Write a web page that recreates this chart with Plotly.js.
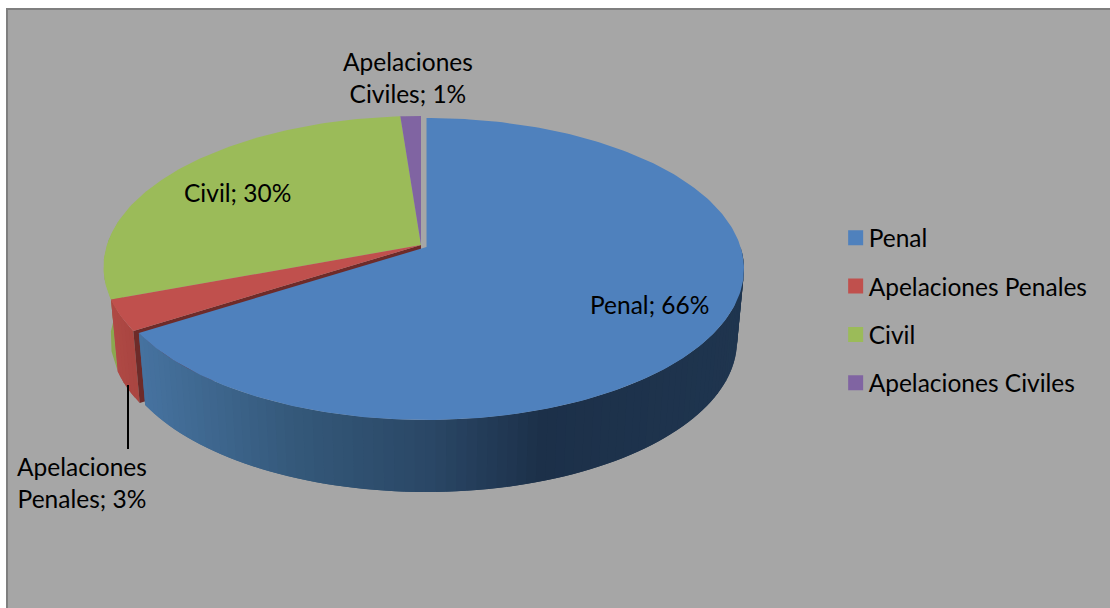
<!DOCTYPE html>
<html>
<head>
<meta charset="utf-8">
<script src="https://cdn.plot.ly/plotly-3.0.1.min.js"></script>
<style>html,body{margin:0;padding:0;background:#fff}#chart{width:1110px;height:608px}</style>
</head>
<body>
<div id="chart"></div>
<script>
// Data
const categories = ["Penal", "Apelaciones Penales", "Civil", "Apelaciones Civiles"];
const shares = [66, 3.3, 29.5, 1.2];
const colors = ["#4F81BD", "#C0504D", "#9BBB59", "#8064A2"];

// Projection of the tilted pie onto the axes (axis units = page pixels)
const TILT = { k: 0.1457, a: 147.8, b: 314.1, depth: 72, lowerScale: 0.978 };
const CENTERS = [{x: 426.5, y: 247}, {x: 421, y: 245}, {x: 421, y: 245}, {x: 421, y: 245}];
const FONT = "Lato, Carlito, Calibri, sans-serif";
const FS = 24.5;

function P(deg, c, level) {
  const t = deg * Math.PI / 180, u = Math.sin(t), v = Math.cos(t);
  const w = 1 / (1 + TILT.k * v);
  return [c.x + TILT.b * u * w * (level ? TILT.lowerScale : 1),
          c.y - TILT.a * v * w + (level ? TILT.depth : 0)];
}
function poly(pts, color, lw) {
  return { type: "scatter", mode: "lines", x: pts.map(p => p[0]), y: pts.map(p => p[1]),
    fill: "toself", fillcolor: color, line: { color: color, width: lw === undefined ? 0 : lw, shape: "linear" },
    showlegend: false, hoverinfo: "skip" };
}
function hex(c){return [1,3,5].map(i=>parseInt(c.slice(i,i+2),16));}
function ramp(stops, x) {
  if (x <= stops[0][0]) return stops[0][1];
  for (let i = 1; i < stops.length; i++) {
    if (x <= stops[i][0]) {
      const f = (x - stops[i-1][0]) / (stops[i][0] - stops[i-1][0]);
      const a = hex(stops[i-1][1]), b = hex(stops[i][1]);
      return "rgb(" + a.map((v, j) => Math.round(v + (b[j] - v) * f)).join(",") + ")";
    }
  }
  return stops[stops.length-1][1];
}
const blueRamp = [[147,"#46729F"],[300,"#345879"],[430,"#2A4766"],[540,"#1C3049"],[744,"#1F354F"]];
const redRamp  = [[112,"#B04A46"],[147,"#A8443F"]];

// Slice angle spans, clockwise from 12 o'clock
const spans = [];
let acc = 0;
shares.forEach(s => { spans.push([acc * 3.6, (acc + s) * 3.6]); acc += s; });

function arc(i, level, a0, a1, n) {
  const out = [];
  for (let j = 0; j <= n; j++) out.push(P(a0 + (a1 - a0) * j / n, CENTERS[i], level));
  return out;
}
function side(i, a0, a1, color) {
  return poly(arc(i, 0, a0, a1, 4).concat(arc(i, 1, a0, a1, 4).reverse()), color);
}
// Wall drawn as overlapping strips so no seams appear between neighbours
function shadedWall(i, from, to, n, stops, out) {
  const step = (to - from) / n;
  for (let j = 0; j < n; j++) {
    const s0 = from + step * j, s1 = Math.min(to, s0 + 2 * step);
    out.push(side(i, s0, s1, ramp(stops, P(s0 + step / 2, CENTERS[i], 1)[0])));
  }
}

const traces = [];
// Legend entries
categories.forEach((name, i) => traces.push({
  type: "scatter", mode: "markers", x: [null], y: [null], name: name, legendgroup: name,
  marker: { symbol: "square", size: 15, color: colors[i] }, hoverinfo: "skip"
}));
// Civil outer wall
traces.push(side(2, spans[2][0], spans[2][0] + 30, "#8BA84F"));
// Apelaciones Penales outer wall and cut wall
shadedWall(1, spans[1][0], spans[1][1], 6, redRamp, traces);
{
  const c = CENTERS[1], a0 = spans[1][0];
  traces.push(poly([[c.x, c.y], P(a0, c, 0), P(a0, c, 1), [c.x, c.y + TILT.depth]], "#6E2B29"));
}
// Penal outer wall: only the part that faces the viewer
shadedWall(0, 90, spans[0][1], 90, blueRamp, traces);
// Top faces
[2, 3, 1, 0].forEach(i => {
  const [a0, a1] = spans[i], c = CENTERS[i];
  const n = Math.max(4, Math.round(a1 - a0));
  traces.push(poly([[c.x, c.y]].concat(arc(i, 0, a0, a1, n)), colors[i], 0));
});
// Leader line of "Apelaciones Penales"
traces.push({ type: "scatter", mode: "lines", x: [128, 128], y: [385, 449],
  line: { color: "#000", width: 2 }, showlegend: false, hoverinfo: "skip" });

const label = (i, br) => {
  const n = categories[i].split(" ");
  const pct = Math.round(shares[i]) + "%";
  return br ? n[0] + "<br>" + n[1] + "; " + pct : categories[i] + "; " + pct;
};
const ann = (i, x, y, br) => ({ x, y, xref: "x", yref: "y", text: label(i, br), showarrow: false,
  xanchor: "center", yanchor: "middle", align: "center", font: { family: FONT, size: FS, color: "#000" } });

const layout = {
  width: 1110, height: 608,
  margin: { l: 8, r: 0, t: 10, b: 0, pad: 0 },
  paper_bgcolor: "#FFFFFF", plot_bgcolor: "#A6A6A6",
  xaxis: { range: [8, 1110], side: "top", showgrid: false, zeroline: false, showticklabels: false, ticks: "",
    showline: true, linecolor: "#7F7F7F", linewidth: 2, fixedrange: true },
  yaxis: { range: [608, 10], showgrid: false, zeroline: false, showticklabels: false, ticks: "",
    showline: true, linecolor: "#7F7F7F", linewidth: 2, fixedrange: true },
  showlegend: true,
  legend: { x: 0.7447, y: 0.6567, xanchor: "left", yanchor: "top", bgcolor: "rgba(0,0,0,0)", traceorder: "grouped",
    tracegroupgap: 13.5, font: { family: FONT, size: FS, color: "#000" }, itemclick: false, itemdoubleclick: false },
  annotations: [ann(0, 649, 304), ann(2, 237, 192), ann(3, 408, 77, true), ann(1, 82, 482, true)]
};

Plotly.newPlot("chart", traces, layout, { displayModeBar: false, staticPlot: true }).then(() => {
  document.querySelectorAll("#chart .legendsymbols").forEach(g => g.setAttribute("transform", "translate(7,0)"));
});
</script>
</body>
</html>
